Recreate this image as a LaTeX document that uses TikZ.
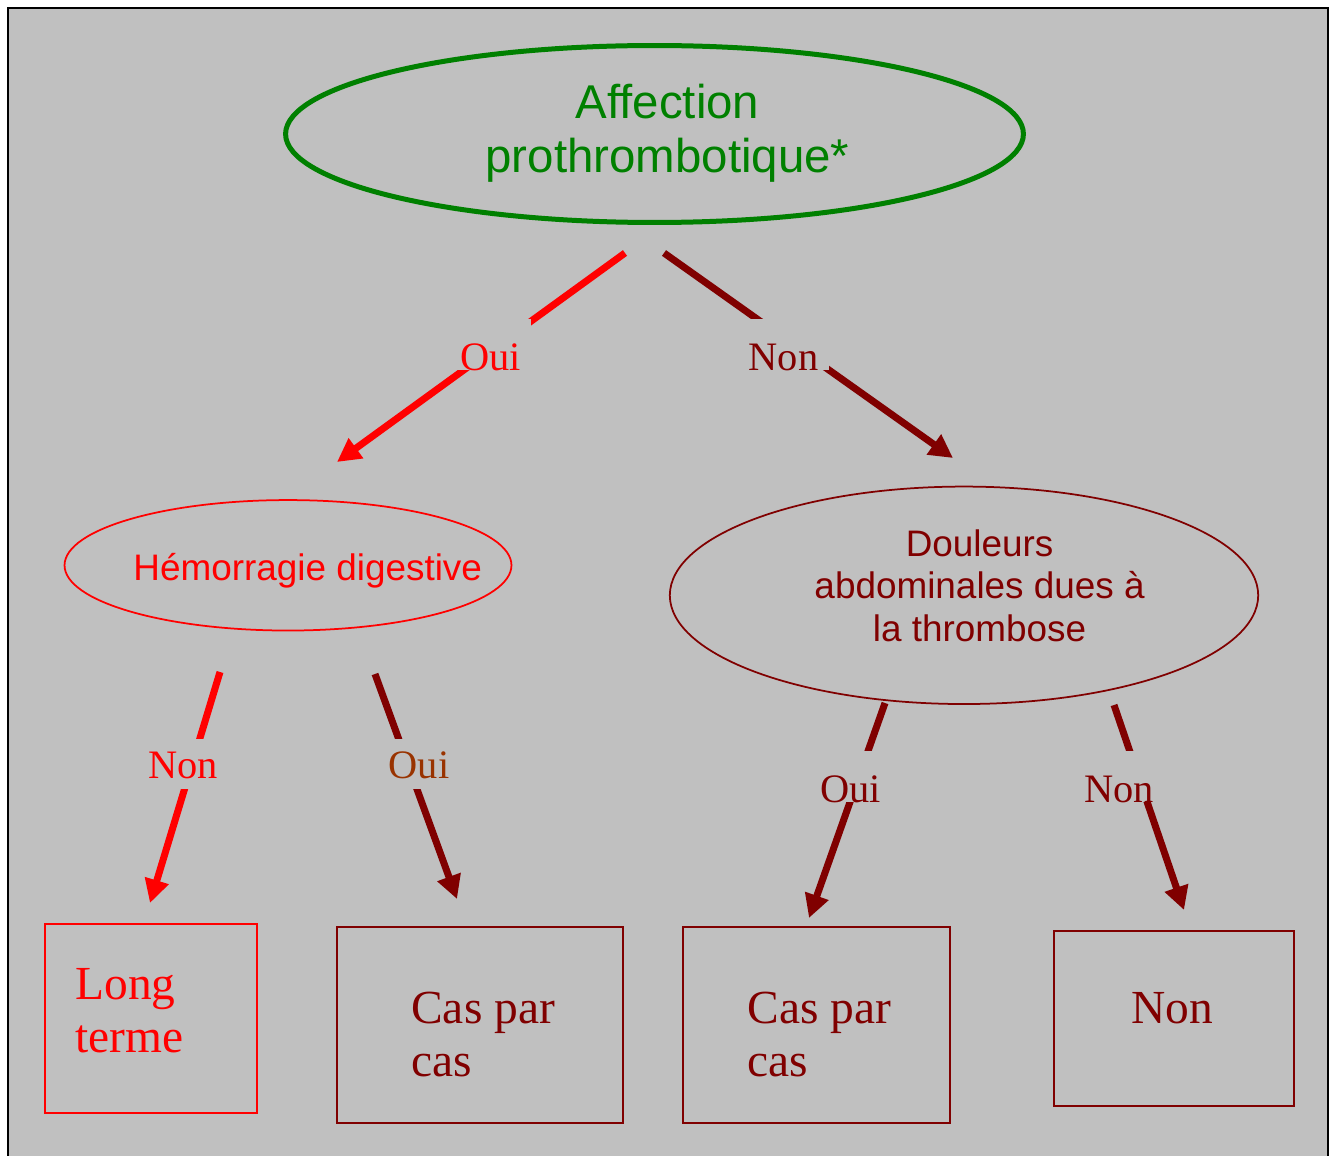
\documentclass[tikz,border=0pt]{standalone}
\usepackage{fontspec}
\setmainfont{Liberation Serif}
\setsansfont{Liberation Sans}
\usepackage{tikz}
\usetikzlibrary{positioning}
\usetikzlibrary{arrows.meta}
\usetikzlibrary{shapes.geometric}
\definecolor{bg}{RGB}{192,192,192}
\definecolor{darkred}{RGB}{128,0,0}
\definecolor{brown-oui}{RGB}{153,51,0}
\definecolor{green-oval}{RGB}{0,128,0}

\begin{document}
\begin{tikzpicture}[x=0.02cm, y=-0.02cm,
  oval/.style={ellipse, draw, inner sep=0pt},
  ovaltext/.style={font=\sffamily\fontsize{21pt}{24.4pt}\selectfont, align=center, inner sep=0pt},
  answer/.style={rectangle, draw, line width=0.04cm, inner sep=0pt},
  answertext/.style={font=\fontsize{27pt}{30pt}\selectfont, align=left, inner sep=0pt, anchor=west},
  choice/.style={font=\fontsize{23pt}{26pt}\selectfont, fill=bg, inner xsep=6pt, inner ysep=0pt, text height=29pt, text depth=0pt, anchor=base},
  choice mid/.style={text height=22pt, text depth=6pt},
  branch/.style={line width=0.14cm, -{Triangle[length=0.47cm,width=0.47cm]}}]

\useasboundingbox (0,0) rectangle (1337,1155);
\clip (0,0) rectangle (1337,1155);
\fill [white] (0,0) rectangle (1337,1155);
\draw [fill=bg, line width=0.05cm] (8,8) rectangle (1328,1200);

% the three questions
\node [oval, green-oval, line width=0.1cm, minimum width=14.76cm, minimum height=3.54cm] (aff) at (654.5,134) {};
\node [ovaltext, green-oval, font=\sffamily\fontsize{27pt}{30.6pt}\selectfont] (afftext) at (667.5,133) {Affection\\prothrombotique*};

\node [oval, red, line width=0.035cm, minimum width=8.94cm, minimum height=2.61cm] (hem) at (288,565.3) {};
\node [ovaltext, red] (hemtext) at (307.7,570.5) {Hémorragie digestive};

\node [oval, darkred, line width=0.035cm, minimum width=11.77cm, minimum height=4.35cm] (dou) at (964,595.3) {};
\node [ovaltext, darkred] (doutext) at (979.6,585.7) {Douleurs\\abdominales dues à\\la thrombose};

% the answers
\node [answer, red, minimum width=4.24cm, minimum height=3.78cm] (lt) at (151,1018.5) {};
\node [answertext, red] (lttext) at (75,1010.7) {Long\\terme};

\node [answer, darkred, minimum width=5.72cm, minimum height=3.92cm] (cpc1) at (480,1025) {};
\node [answertext, darkred] (cpc1text) at (411,1034.4) {Cas par\\cas};

\node [answer, darkred, minimum width=5.36cm, minimum height=3.92cm] (cpc2) at (816.5,1025) {};
\node [answertext, darkred] (cpc2text) at (747,1034.4) {Cas par\\cas};

\node [answer, darkred, minimum width=4.8cm, minimum height=3.5cm] (non) at (1174,1018.5) {};
\node [answertext, darkred, anchor=center] (nontext) at (1172,1008.3) {Non};

% arrows
\coordinate (a1s) at (625,253);
\coordinate (a1e) at (337,462);
\coordinate (a2s) at (664,253);
\coordinate (a2e) at (953,458);
\coordinate (b1s) at (220,672);
\coordinate (b1e) at (150,903);
\coordinate (b2s) at (375,674);
\coordinate (b2e) at (457,899);
\coordinate (c1s) at (885,703);
\coordinate (c1e) at (809,918);
\coordinate (c2s) at (1114,705);
\coordinate (c2e) at (1184,910);

\draw [branch, red] (a1s) -- (a1e);
\draw [branch, darkred] (a2s) -- (a2e);
\draw [branch, red] (b1s) -- (b1e);
\draw [branch, darkred] (b2s) -- (b2e);
\draw [branch, darkred] (c1s) -- (c1e);
\draw [branch, darkred] (c2s) -- (c2e);

\node [choice, text=red] (oui1) at (490.5,370) {Oui};
\node [choice, text=darkred] (non1) at (783.5,370) {Non};
\node [choice, choice mid, text=red] (non2) at (183,778) {Non};
\node [choice, choice mid, text=brown-oui] (oui2) at (419,778) {Oui};
\node [choice, text=darkred] (oui3) at (850.5,802) {Oui};
\node [choice, text=darkred] (non3) at (1119,802) {Non};

\end{tikzpicture}
\end{document}
